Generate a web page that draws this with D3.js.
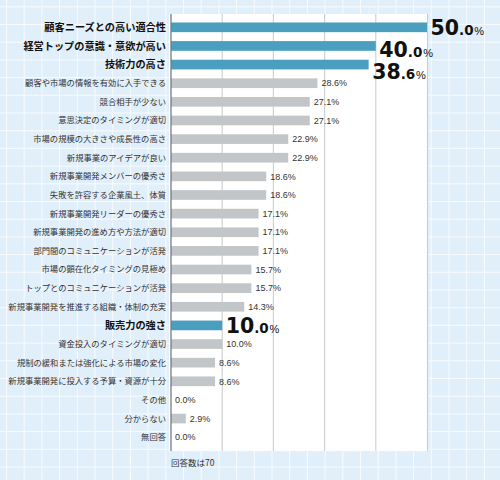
<!DOCTYPE html>
<html><head><meta charset="utf-8">
<script src="https://cdn.jsdelivr.net/npm/d3@7"></script>
<style>body{margin:0;}svg{display:block;}</style>
</head><body>
<svg id="chart" width="500" height="480"></svg>
<script>
const categories = ["顧客ニーズとの高い適合性","経営トップの意識・意欲が高い","技術力の高さ","顧客や市場の情報を有効に入手できる","競合相手が少ない","意思決定のタイミングが適切","市場の規模の大きさや成長性の高さ","新規事業のアイデアが良い","新規事業開発メンバーの優秀さ","失敗を許容する企業風土、体質","新規事業開発リーダーの優秀さ","新規事業開発の進め方や方法が適切","部門間のコミュニケーションが活発","市場の顕在化タイミングの見極め","トップとのコミュニケーションが活発","新規事業開発を推進する組織・体制の充実","販売力の強さ","資金投入のタイミングが適切","規制の緩和または強化による市場の変化","新規事業開発に投入する予算・資源が十分","その他","分からない","無回答"];
const values = [50.0,40.0,38.6,28.6,27.1,27.1,22.9,22.9,18.6,18.6,17.1,17.1,17.1,15.7,15.7,14.3,10.0,10.0,8.6,8.6,0.0,2.9,0.0];
const highlighted = [true,true,true,false,false,false,false,false,false,false,false,false,false,false,false,false,true,false,false,false,false,false,false];
const gridTicks = [10,20,30,40];
const footnote = "回答数は70";

const svg = d3.select("#chart");
const W = 500, H = 480;
const JP = "'Noto Sans CJK JP', sans-serif";
const NUM = "'Liberation Sans', Arial, sans-serif";
const BIG = "'DejaVu Sans', sans-serif";

// background with light grid
svg.append("rect").attr("width", W).attr("height", H).attr("fill", "#e1effa");
const gstep = 17.7;
const bg = svg.append("g").attr("stroke", "#f7fbfe").attr("stroke-width", 1);
d3.range(6.5, W, gstep).forEach(x => bg.append("line").attr("x1", x).attr("x2", x).attr("y1", 0).attr("y2", H));
d3.range(6.8, H, gstep).forEach(y => bg.append("line").attr("y1", y).attr("y2", y).attr("x1", 0).attr("x2", W));

const x = d3.scaleLinear().domain([0, 50]).range([171, 427]);
const y = d3.scaleBand().domain(categories).range([18, 446.5]).paddingInner(0.48).paddingOuter(0.24);

const panelTop = 14, panelBottom = 451;
svg.append("rect").attr("x", 169).attr("y", panelTop).attr("width", x(50) - 169).attr("height", panelBottom - panelTop).attr("fill", "#ffffff");
svg.append("line").attr("x1", x(50) + 0.5).attr("x2", x(50) + 0.5).attr("y1", panelTop).attr("y2", panelBottom).attr("stroke", "#c9ccce").attr("stroke-width", 1);

// vertical gridlines
svg.append("g").selectAll("line").data(gridTicks).join("line")
  .attr("x1", d => x(d)).attr("x2", d => x(d))
  .attr("y1", panelTop).attr("y2", panelBottom)
  .attr("stroke", "#cfd2d4").attr("stroke-width", 1.2);

// bars
svg.append("g").selectAll("rect").data(values).join("rect")
  .attr("x", x(0))
  .attr("y", (d, i) => y(categories[i]))
  .attr("width", d => x(d) - x(0))
  .attr("height", y.bandwidth())
  .attr("fill", (d, i) => highlighted[i] ? "#4a9ec0" : "#c3c6c9");

// axis line
svg.append("line").attr("x1", x(0)).attr("x2", x(0)).attr("y1", panelTop).attr("y2", panelBottom)
  .attr("stroke", "#777b7e").attr("stroke-width", 1.3);

// category labels
svg.append("g").selectAll("text").data(categories).join("text")
  .attr("x", 166)
  .attr("y", d => y(d) + y.bandwidth() / 2)
  .attr("dy", "0.36em")
  .attr("text-anchor", "end")
  .attr("font-family", JP)
  .attr("font-size", (d, i) => highlighted[i] ? 10.2 : 8.3)
  .attr("font-weight", (d, i) => highlighted[i] ? "bold" : "normal")
  .attr("fill", (d, i) => highlighted[i] ? "#111" : "#333")
  .text(d => d);

// value labels
const vl = svg.append("g");
let prevBase = -Infinity;
values.forEach((v, i) => {
  const cy = y(categories[i]) + y.bandwidth() / 2;
  const parts = v.toFixed(1).split(".");
  if (highlighted[i]) {
    let base = cy + 7.5;
    if (base < prevBase + 22) base = prevBase + 22;
    prevBase = base;
    const t = vl.append("text").attr("x", x(v) + 3.5).attr("y", base)
      .attr("font-family", BIG).attr("font-weight", "bold").attr("fill", "#111");
    t.append("tspan").attr("font-size", 20.5).text(parts[0]);
    t.append("tspan").attr("font-size", 13.5).text("." + parts[1]);
    t.append("tspan").attr("font-family", NUM).attr("font-weight", "normal").attr("font-size", 11).attr("dx", 0.8).text("%");
  } else {
    vl.append("text").attr("x", x(v) + 4).attr("y", cy).attr("dy", "0.36em")
      .attr("font-family", NUM).attr("font-size", 9).attr("fill", "#333")
      .text(v.toFixed(1) + "%");
  }
});

// footnote
svg.append("text").attr("x", 171).attr("y", 466).attr("font-family", JP).attr("font-size", 8.5).attr("fill", "#333").text(footnote);
</script>
</body></html>
